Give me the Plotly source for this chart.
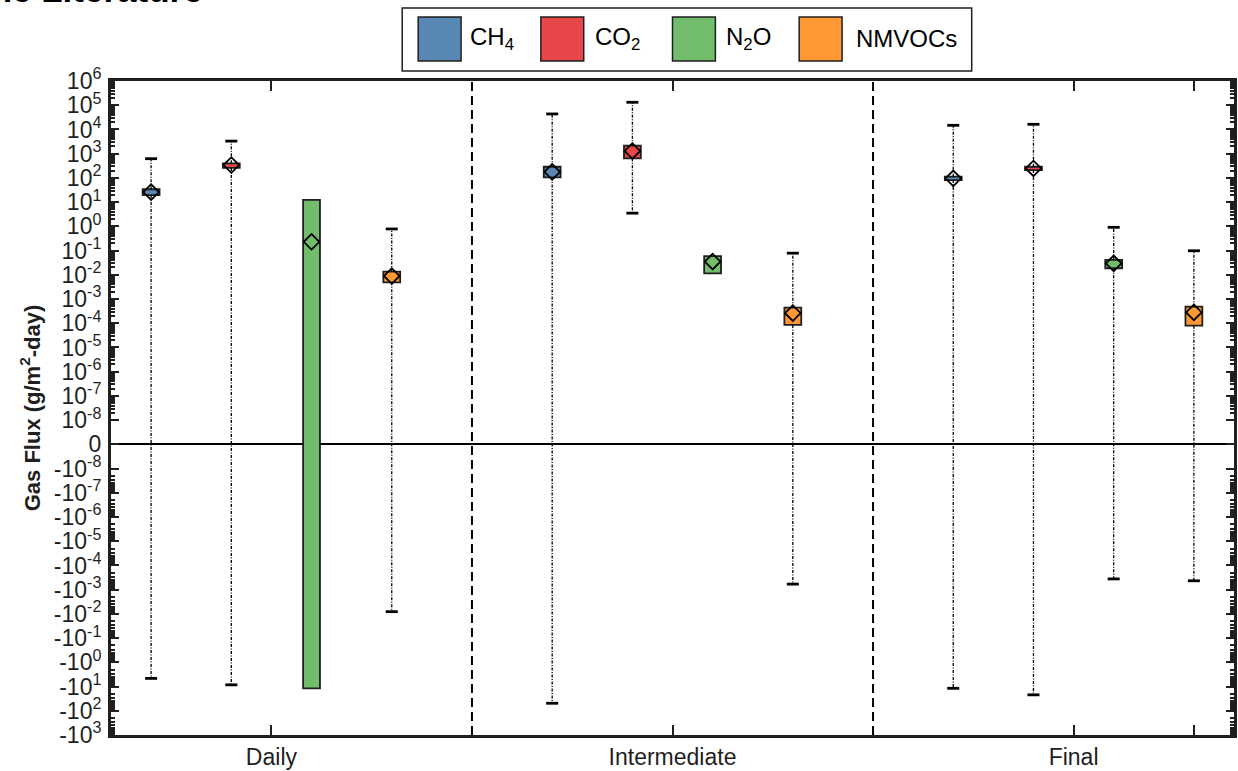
import numpy as np
import plotly.graph_objects as go

# ---- data -------------------------------------------------------------
groups = ["Daily", "Intermediate", "Final"]
gases = ["CH<sub>4</sub>", "CO<sub>2</sub>", "N<sub>2</sub>O", "NMVOCs"]
colors = ["#5887b3", "#e8474a", "#71bd6c", "#fd9834"]

# statistics per gas, ordered Daily / Intermediate / Final  (g/m^2-day)
upper_ch4 = [620, 43600, 14800]
q3_ch4 = [34, 288, 112]
mean_ch4 = [26, 178, 96]
q1_ch4 = [19.5, 105, 81]
lower_ch4 = [-4.6, -49, -11.8]

upper_co2 = [3300, 132000, 16300]
q3_co2 = [400, 2140, 288]
mean_co2 = [340, 1290, 245]
q1_co2 = [257, 645, 210]
lower_co2 = [-8.5, 3.5, -22]

upper_n2o = [12.3, 0.059, 0.91]
q3_n2o = [12.3, 0.059, 0.041]
mean_n2o = [0.23, 0.035, 0.0296]
q1_n2o = [-11.8, 0.0115, 0.0186]
lower_n2o = [-11.8, 0.0115, -3.6e-4]

upper_voc = [0.78, 0.078, 0.098]
q3_voc = [0.0135, 4.4e-4, 4.8e-4]
mean_voc = [0.0089, 2.6e-4, 2.8e-4]
q1_voc = [0.0049, 8.5e-5, 7.9e-5]
lower_voc = [-0.0081, -5.9e-4, -4.3e-4]

stats = [
    (upper_ch4, q3_ch4, mean_ch4, q1_ch4, lower_ch4),
    (upper_co2, q3_co2, mean_co2, q1_co2, lower_co2),
    (upper_n2o, q3_n2o, mean_n2o, q1_n2o, lower_n2o),
    (upper_voc, q3_voc, mean_voc, q1_voc, lower_voc),
]

# y tick decades: positive 1e-8..1e6, negative -1e-8..-1e3
pos_exps = list(range(-8, 7))
neg_exps = list(range(-8, 4))


# symmetric log transform: one unit per decade, 1e-8 sits one unit above zero
def tf(v):
    v = np.asarray(v, dtype=float)
    return np.sign(v) * (np.log10(np.abs(v)) + 9)


# ---- layout geometry --------------------------------------------------
W, H = 1238, 771
ML, MR, MT, MB = 111, 1, 81, 36
PW, PH = W - ML - MR, H - MT - MB


def px(xp):
    return (xp - ML) / PW


def py(yp):
    return 1 - (yp - MT) / PH


FONT = "Liberation Sans, Arial, sans-serif"
INK = "#1f1f1f"
box_w = 0.21
cap_half = 0.075

fig = go.Figure()

# whiskers (dash-dot) and caps
wx, wy, cx, cy = [], [], [], []
for k, (up, q3, mn, q1, lo) in enumerate(stats):
    for g in range(3):
        x = 1 + 5 * g + k
        if up[g] != q3[g]:
            wx += [x, x, None]
            wy += [float(tf(q3[g])), float(tf(up[g])), None]
            cx += [x - cap_half, x + cap_half, None]
            cy += [float(tf(up[g]))] * 2 + [None]
        if lo[g] != q1[g]:
            wx += [x, x, None]
            wy += [float(tf(q1[g])), float(tf(lo[g])), None]
            cx += [x - cap_half, x + cap_half, None]
            cy += [float(tf(lo[g]))] * 2 + [None]

fig.add_trace(go.Scatter(x=wx, y=wy, mode="lines", showlegend=False, hoverinfo="skip",
                         line=dict(color="#000000", width=1.3, dash="3px,1.5px,1px,1.5px")))
fig.add_trace(go.Scatter(x=cx, y=cy, mode="lines", showlegend=False, hoverinfo="skip",
                         line=dict(color="#000000", width=2.8)))

# interquartile boxes
for k, (up, q3, mn, q1, lo) in enumerate(stats):
    xs = [1 + 5 * g + k for g in range(3)]
    base = tf(q1)
    height = tf(q3) - base
    fig.add_trace(go.Bar(x=xs, y=height, base=base, width=box_w,
                         marker=dict(color=colors[k], line=dict(color=INK, width=1.8)),
                         showlegend=False))

# means
for k, (up, q3, mn, q1, lo) in enumerate(stats):
    xs = [1 + 5 * g + k for g in range(3)]
    fig.add_trace(go.Scatter(x=xs, y=tf(mn), mode="markers", showlegend=False,
                             marker=dict(symbol="diamond-open", size=12, color="#000000",
                                         line=dict(width=1.8, color="#000000"))))

# ---- axes -------------------------------------------------------------
yvals = [-(e + 9) for e in neg_exps] + [0] + [e + 9 for e in pos_exps]
ytext = ["-10<sup>%d</sup>" % e for e in neg_exps] + ["0"] + ["10<sup>%d</sup>" % e for e in pos_exps]

minor_vals = []
for e in range(-8, 6):
    for m in range(2, 10):
        minor_vals.append(e + 9 + np.log10(m))
for e in range(-8, 3):
    for m in range(2, 10):
        minor_vals.append(-(e + 9 + np.log10(m)))

fig.update_yaxes(
    range=[-12, 15], tickmode="array", tickvals=yvals, ticktext=ytext,
    ticks="inside", ticklen=8, tickwidth=2.2, tickcolor=INK,
    minor=dict(tickmode="array", tickvals=minor_vals, ticks="inside", ticklen=4,
               tickwidth=1.5, tickcolor=INK),
    showline=True, linewidth=3, linecolor=INK, mirror="allticks",
    showgrid=False, zeroline=True, zerolinecolor="#000000", zerolinewidth=2,
    tickfont=dict(family=FONT, size=23, color=INK),
    ticklabelstandoff=2,
    title=dict(text="<b>Gas Flux (g/m<sup>2</sup>-day)</b>", standoff=8,
               font=dict(family=FONT, size=22, color=INK)),
)
fig.update_xaxes(
    range=[0.5, 14.5], tickmode="array", tickvals=[2.5, 7.5, 12.5, 14],
    ticktext=groups + [""],
    ticks="inside", ticklen=10, tickwidth=2, tickcolor=INK,
    showline=True, linewidth=2.5, linecolor=INK, mirror="allticks",
    showgrid=False, zeroline=False,
    tickfont=dict(family=FONT, size=23, color=INK),
)

shapes = []
# group separators
for xs in (5, 10):
    shapes.append(dict(type="line", xref="x", yref="paper", x0=xs, x1=xs, y0=0, y1=1,
                       line=dict(color="#000000", width=2, dash="9px,5px")))

# legend frame and swatches
shapes.append(dict(type="rect", xref="paper", yref="paper", x0=px(403), x1=px(974),
                   y0=py(71), y1=py(8), line=dict(color=INK, width=1.5), fillcolor="white"))
sw_left = [419, 542, 674, 801]
txt_left = [469, 594, 726, 856]
annotations = []
for k in range(4):
    shapes.append(dict(type="rect", xref="paper", yref="paper",
                       x0=px(sw_left[k]), x1=px(sw_left[k] + 43), y0=py(61), y1=py(17),
                       fillcolor=colors[k], line=dict(color=INK, width=1.5)))
    annotations.append(dict(xref="paper", yref="paper", x=px(txt_left[k]), y=py(39),
                            xanchor="left", yanchor="middle", showarrow=False, text=gases[k],
                            font=dict(family=FONT, size=24, color="#000000")))

# figure heading (runs past the top-left corner)
annotations.append(dict(xref="paper", yref="paper", x=px(205), y=py(11), xanchor="right",
                        yanchor="bottom", showarrow=False, text="<b>the Literature</b>",
                        font=dict(family=FONT, size=35, color="#000000")))

fig.update_layout(
    width=W, height=H, margin=dict(l=ML, r=MR, t=MT, b=MB),
    paper_bgcolor="white", plot_bgcolor="white", barmode="overlay",
    shapes=shapes, annotations=annotations, showlegend=False,
    font=dict(family=FONT, color=INK),
)

fig.write_html("out.html")
